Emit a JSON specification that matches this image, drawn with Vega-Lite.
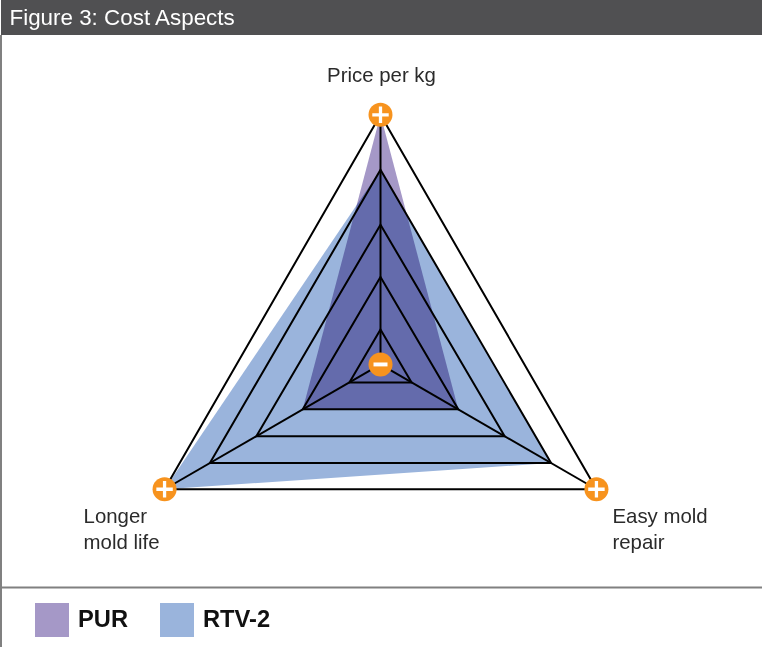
{
"$schema":"https://vega.github.io/schema/vega-lite/v6.json",
"width":763,"height":648,"padding":0,
"autosize":{"type":"fit","contains":"padding"},
"background":"white",
"config":{"view":{"stroke":null},"text":{"font":"Liberation Sans"}},
"datasets":{
"scores":[
{"material":"RTV-2","axis":"Price per kg","value":78},
{"material":"RTV-2","axis":"Easy mold repair","value":79},
{"material":"RTV-2","axis":"Longer mold life","value":100},
{"material":"PUR","axis":"Price per kg","value":100},
{"material":"PUR","axis":"Easy mold repair","value":36},
{"material":"PUR","axis":"Longer mold life","value":36}],
"grid":[
{"level":1,"axis":"Price per kg","value":14},{"level":1,"axis":"Easy mold repair","value":14.4},{"level":1,"axis":"Longer mold life","value":14.4},
{"level":2,"axis":"Price per kg","value":35},{"level":2,"axis":"Easy mold repair","value":36},{"level":2,"axis":"Longer mold life","value":36},
{"level":3,"axis":"Price per kg","value":56},{"level":3,"axis":"Easy mold repair","value":57.5},{"level":3,"axis":"Longer mold life","value":57.5},
{"level":4,"axis":"Price per kg","value":78},{"level":4,"axis":"Easy mold repair","value":79},{"level":4,"axis":"Longer mold life","value":79},
{"level":5,"axis":"Price per kg","value":100},{"level":5,"axis":"Easy mold repair","value":100},{"level":5,"axis":"Longer mold life","value":100}],
"spokes":[
{"axis":"Price per kg","value":0},{"axis":"Price per kg","value":100},
{"axis":"Easy mold repair","value":0},{"axis":"Easy mold repair","value":100},
{"axis":"Longer mold life","value":0},{"axis":"Longer mold life","value":100}],
"ends":[
{"axis":"Price per kg","value":100,"end":"plus"},
{"axis":"Easy mold repair","value":100,"end":"plus"},
{"axis":"Longer mold life","value":100,"end":"plus"},
{"axis":"Price per kg","value":0,"end":"minus"}],
"labels":[
{"axis":"Price per kg","value":100,"label":"Price per kg"},
{"axis":"Easy mold repair","value":100,"label":"Easy mold\nrepair"},
{"axis":"Longer mold life","value":100,"label":"Longer\nmold life"}]
},
"layer":[
{"data":{"name":"scores"},
 "transform":[
  {"calculate":"datum.axis==='Price per kg'?0:datum.axis==='Easy mold repair'?2*PI/3:4*PI/3","as":"angle"},
  {"calculate":"datum.value*sin(datum.angle)","as":"px"},
  {"calculate":"datum.value*cos(datum.angle)","as":"py"}],
 "mark":{"type":"line","interpolate":"linear-closed","filled":true,"strokeWidth":0,"blend":"multiply"},
 "encoding":{
  "x":{"field":"px","type":"quantitative","scale":{"domain":[-152.2,153],"nice":false,"zero":false},"axis":null},
  "y":{"field":"py","type":"quantitative","scale":{"domain":[-113.2,146],"nice":false,"zero":false},"axis":null},
  "order":{"field":"angle"},
  "color":{"field":"material","type":"nominal",
   "scale":{"domain":["PUR","RTV-2"],"range":["#a598c7","#9ab4dc"]},
   "legend":{"title":null,"orient":"none","legendX":34,"legendY":603,"direction":"horizontal","columns":2,
     "symbolType":"square","symbolSize":1156,"symbolStrokeWidth":0,"symbolOpacity":1,
     "labelFont":"Liberation Sans","labelFontSize":23.7,"labelFontWeight":"bold","labelColor":"#111111",
     "labelOffset":9,"columnPadding":31,"labelLimit":200}}
 }},
{"data":{"name":"grid"},
 "transform":[
  {"calculate":"datum.axis==='Price per kg'?0:datum.axis==='Easy mold repair'?2*PI/3:4*PI/3","as":"angle"},
  {"calculate":"datum.value*sin(datum.angle)","as":"px"},
  {"calculate":"datum.value*cos(datum.angle)","as":"py"}],
 "mark":{"type":"line","interpolate":"linear-closed","stroke":"#000000","strokeWidth":2},
 "encoding":{
  "x":{"field":"px","type":"quantitative"},
  "y":{"field":"py","type":"quantitative"},
  "order":{"field":"angle"},
  "detail":{"field":"level"}
 }},
{"data":{"name":"spokes"},
 "transform":[
  {"calculate":"datum.axis==='Price per kg'?0:datum.axis==='Easy mold repair'?2*PI/3:4*PI/3","as":"angle"},
  {"calculate":"datum.value*sin(datum.angle)","as":"px"},
  {"calculate":"datum.value*cos(datum.angle)","as":"py"}],
 "mark":{"type":"line","stroke":"#000000","strokeWidth":2},
 "encoding":{
  "x":{"field":"px","type":"quantitative"},
  "y":{"field":"py","type":"quantitative"},
  "order":{"field":"value"},
  "detail":{"field":"axis"}
 }},
{"data":{"name":"ends"},
 "transform":[
  {"calculate":"datum.axis==='Price per kg'?0:datum.axis==='Easy mold repair'?2*PI/3:4*PI/3","as":"angle"},
  {"calculate":"datum.value*sin(datum.angle)","as":"px"},
  {"calculate":"datum.value*cos(datum.angle)","as":"py"}],
 "mark":{"type":"point","shape":"circle","filled":true,"size":576,"fill":"#f7931e","opacity":1},
 "encoding":{
  "x":{"field":"px","type":"quantitative"},
  "y":{"field":"py","type":"quantitative"}
 }},
{"data":{"name":"ends"},
 "transform":[
  {"filter":"datum.end==='plus'"},
  {"calculate":"datum.axis==='Price per kg'?0:datum.axis==='Easy mold repair'?2*PI/3:4*PI/3","as":"angle"},
  {"calculate":"datum.value*sin(datum.angle)","as":"px"},
  {"calculate":"datum.value*cos(datum.angle)","as":"py"}],
 "mark":{"type":"point","shape":"M-1,-.2H-.2V-1H.2V-.2H1V.2H.2V1H-.2V.2H-1Z","filled":true,"size":270,"fill":"#ffffff","opacity":1},
 "encoding":{
  "x":{"field":"px","type":"quantitative"},
  "y":{"field":"py","type":"quantitative"}
 }},
{"data":{"name":"ends"},
 "transform":[
  {"filter":"datum.end==='minus'"},
  {"calculate":"datum.axis==='Price per kg'?0:datum.axis==='Easy mold repair'?2*PI/3:4*PI/3","as":"angle"},
  {"calculate":"datum.value*sin(datum.angle)","as":"px"},
  {"calculate":"datum.value*cos(datum.angle)","as":"py"}],
 "mark":{"type":"point","shape":"M-1,-.28H1V.28H-1Z","filled":true,"size":196,"fill":"#ffffff","opacity":1},
 "encoding":{
  "x":{"field":"px","type":"quantitative"},
  "y":{"field":"py","type":"quantitative"}
 }},
{"data":{"name":"labels"},
 "transform":[
  {"filter":"datum.axis==='Price per kg'"},
  {"calculate":"datum.value*sin(0)","as":"px"},
  {"calculate":"datum.value*cos(0)","as":"py"}],
 "mark":{"type":"text","align":"center","baseline":"alphabetic","dx":1,"dy":-33,"fontSize":20.4,"color":"#2b2b2b"},
 "encoding":{
  "x":{"field":"px","type":"quantitative"},
  "y":{"field":"py","type":"quantitative"},
  "text":{"field":"label"}
 }},
{"data":{"name":"labels"},
 "transform":[
  {"filter":"datum.axis==='Easy mold repair'"},
  {"calculate":"datum.value*sin(2*PI/3)","as":"px"},
  {"calculate":"datum.value*cos(2*PI/3)","as":"py"}],
 "mark":{"type":"text","align":"left","baseline":"alphabetic","lineBreak":"\n","lineHeight":26,"dx":16,"dy":34,"fontSize":20.4,"color":"#2b2b2b"},
 "encoding":{
  "x":{"field":"px","type":"quantitative"},
  "y":{"field":"py","type":"quantitative"},
  "text":{"field":"label"}
 }},
{"data":{"name":"labels"},
 "transform":[
  {"filter":"datum.axis==='Longer mold life'"},
  {"calculate":"datum.value*sin(4*PI/3)","as":"px"},
  {"calculate":"datum.value*cos(4*PI/3)","as":"py"}],
 "mark":{"type":"text","align":"left","baseline":"alphabetic","lineBreak":"\n","lineHeight":26,"dx":-81,"dy":34,"fontSize":20.4,"color":"#2b2b2b"},
 "encoding":{
  "x":{"field":"px","type":"quantitative"},
  "y":{"field":"py","type":"quantitative"},
  "text":{"field":"label"}
 }},
{"data":{"values":[{}]},
 "mark":{"type":"rect","fill":"#505052"},
 "encoding":{
  "x":{"datum":-152.2},"x2":{"datum":153},
  "y":{"datum":146},"y2":{"datum":132}
 }},
{"data":{"values":[{"label":"Figure 3: Cost Aspects"}]},
 "mark":{"type":"text","align":"left","baseline":"middle","fontSize":22.4,"color":"#ffffff"},
 "encoding":{
  "x":{"datum":-148.8},"y":{"datum":138.8},
  "text":{"field":"label"}
 }},
{"data":{"values":[{}]},
 "mark":{"type":"rule","stroke":"#808080","strokeWidth":2},
 "encoding":{
  "x":{"datum":-152.2},"x2":{"datum":153},
  "y":{"datum":-89.4}
 }},
{"data":{"values":[{}]},
 "mark":{"type":"rule","stroke":"#808080","strokeWidth":2},
 "encoding":{
  "x":{"datum":-152.2},
  "y":{"datum":132},"y2":{"datum":-113.2}
 }}
]
}
